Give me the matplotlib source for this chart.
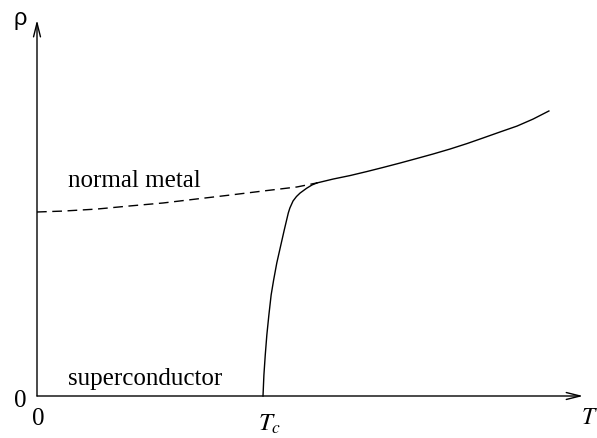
import matplotlib
matplotlib.use("Agg")
import matplotlib.pyplot as plt

# Data (T in units of Tc, rho in units of rho(0) of normal metal)
T_dashed = [0.0, 0.115, 0.265, 0.412, 0.558, 0.708, 0.854, 1.0, 1.150, 1.239]
rho_dashed = [1.0, 1.005, 1.016, 1.033, 1.049, 1.071, 1.092, 1.114, 1.136, 1.158]

T_normal = [1.239, 1.310, 1.385, 1.460, 1.531, 1.606, 1.681, 1.752, 1.827,
            1.903, 1.973, 2.049, 2.124, 2.195, 2.265]
rho_normal = [1.158, 1.179, 1.198, 1.220, 1.242, 1.266, 1.291, 1.315, 1.342,
              1.372, 1.402, 1.435, 1.467, 1.505, 1.549]

T_trans = [1.000, 1.004, 1.010, 1.017, 1.026, 1.036, 1.047, 1.061, 1.077, 1.094,
           1.112, 1.119, 1.133, 1.148, 1.164, 1.193, 1.217, 1.239]
rho_trans = [0.000, 0.114, 0.223, 0.332, 0.440, 0.549, 0.630, 0.723, 0.810, 0.902,
             0.995, 1.022, 1.060, 1.084, 1.103, 1.129, 1.147, 1.158]

T_axis_end = 2.416
rho_axis_end = 2.043

plt.rcParams['mathtext.fontset'] = 'stix'

fig = plt.figure(figsize=(5.97, 4.38), dpi=100)
ax = fig.add_axes([0, 0, 1, 1])
ax.set_xlim(-37 / 226, (597 - 37) / 226)
ax.set_ylim(-(438 - 396) / 184, 396 / 184)
ax.axis('off')

lw = 1.0
ax.plot(T_dashed, rho_dashed, color='black', lw=lw, dashes=(7, 4))
ax.plot(T_normal, rho_normal, color='black', lw=lw, solid_joinstyle='round')
ax.plot(T_trans, rho_trans, color='black', lw=lw, solid_joinstyle='round')

arrow = dict(arrowstyle='->,head_length=10,head_width=2.5', mutation_scale=1,
             lw=lw, color='black', shrinkA=0, shrinkB=0)
ax.annotate('', xy=(T_axis_end, 0), xytext=(0, 0), arrowprops=arrow)
ax.annotate('', xy=(0, rho_axis_end), xytext=(0, 0), arrowprops=arrow)

serif = 'Liberation Serif'
ax.text(0.137, 1.136, 'normal metal', fontsize=18, family=serif, va='baseline', ha='left')
ax.text(0.137, 0.060, 'superconductor', fontsize=18, family=serif, va='baseline', ha='left')
ax.text(-0.075, -0.060, '0', fontsize=18, family=serif, va='baseline', ha='center')
ax.text(0.004, -0.158, '0', fontsize=18, family=serif, va='baseline', ha='center')
ax.text(0.978, -0.190, '$T_c$', fontsize=18, va='baseline', ha='left')
ax.text(2.405, -0.152, '$T$', fontsize=17, va='baseline', ha='left')
ax.text(-0.073, 2.015, 'ρ', fontsize=17, family='Liberation Sans', va='baseline', ha='center')

fig.savefig('out.png', dpi=100)
